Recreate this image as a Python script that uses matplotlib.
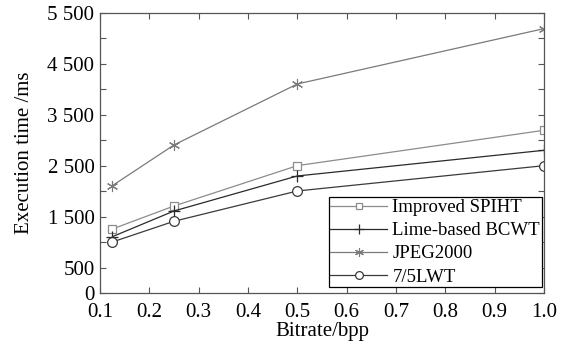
import matplotlib
matplotlib.use("Agg")
import matplotlib.pyplot as plt
from matplotlib.ticker import FixedLocator, FuncFormatter

bitrate = [0.125, 0.25, 0.5, 1.0]

improved_spiht = [1257, 1709, 2502, 3196]
lime_bcwt = [1106, 1611, 2299, 2803]
jpeg2000 = [2108, 2908, 4106, 5193]
lwt_75 = [1002, 1409, 2004, 2501]

y_labeled = [0, 500, 1500, 2500, 3500, 4500, 5500]


def fmt(v, pos):
    v = int(round(v))
    if v not in y_labeled:
        return ""
    return f"{v:,}".replace(",", " ")


def main():
    plt.rcParams['font.family'] = ['Liberation Serif', 'DejaVu Serif']
    plt.rcParams['font.size'] = 15

    fig = plt.figure(figsize=(5.7, 3.48), dpi=100)
    ax = fig.add_axes([100 / 570, 1 - 293 / 348, 444 / 570, 280 / 348])

    ax.plot(bitrate, improved_spiht, color='#8c8c8c', lw=0.9, marker='s',
            ms=6, mfc='white', mec='#8c8c8c', mew=0.9, label='Improved SPIHT')
    ax.plot(bitrate, lime_bcwt, color='#2a2a2a', lw=0.9, marker='+',
            ms=9, mec='#2a2a2a', mew=0.9, label='Lime-based BCWT')
    ax.plot(bitrate, jpeg2000, color='#7a7a7a', lw=0.9, marker=(6, 2, 0),
            ms=8, mec='#7a7a7a', mew=0.8, label='JPEG2000')
    ax.plot(bitrate, lwt_75, color='#3a3a3a', lw=0.9, marker='o',
            ms=7, mfc='white', mec='#3a3a3a', mew=0.9, label='7/5LWT')

    ax.set_xlim(0.1, 1.0)
    ax.set_ylim(0, 5500)
    ax.set_xticks([0.1, 0.2, 0.3, 0.4, 0.5, 0.6, 0.7, 0.8, 0.9, 1.0])
    ax.xaxis.set_major_formatter(FuncFormatter(lambda v, p: f"{v:.1f}"))
    ax.yaxis.set_major_locator(FixedLocator(list(range(0, 5501, 500))))
    ax.yaxis.set_major_formatter(FuncFormatter(fmt))
    ax.tick_params(direction='in', top=True, right=True, length=4,
                   color='#555555')
    ax.tick_params(axis='x', pad=7)
    ax.tick_params(axis='y', pad=4)
    for s in ax.spines.values():
        s.set_color('#555555')
        s.set_linewidth(0.9)

    ax.set_xlabel("Bitrate/bpp", labelpad=0)
    ax.set_ylabel("Execution time /ms", labelpad=10)

    leg = ax.legend(loc='lower right', bbox_to_anchor=(0.995, 0.02),
                    fancybox=False, framealpha=1, edgecolor='black',
                    prop={'size': 13.5},
                    borderpad=0.1, labelspacing=0.32, handlelength=3.0,
                    handletextpad=0.3, borderaxespad=0, markerscale=0.8)
    leg.get_frame().set_linewidth(0.9)

    fig.savefig("out.png", dpi=100)


if __name__ == "__main__":
    main()
